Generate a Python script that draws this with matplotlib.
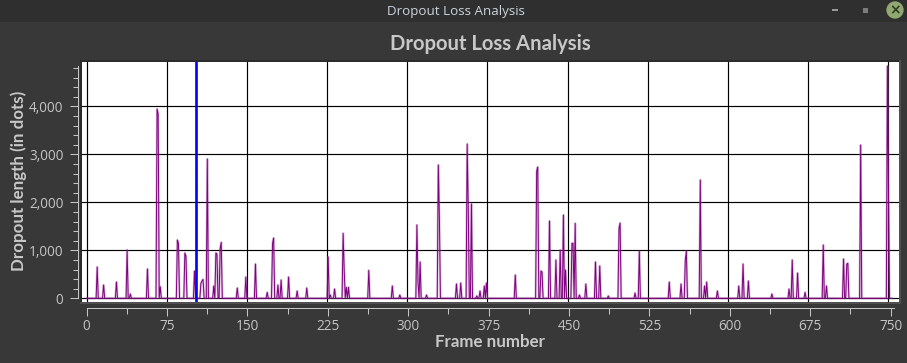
import numpy as np
import matplotlib
matplotlib.use("Agg")
import matplotlib.pyplot as plt
from matplotlib.patches import Rectangle

# Spikes, everything else sits at zero
peak_frames = [10, 16, 28, 38, 41, 57, 66, 67, 69, 85, 86, 92, 93, 101, 107, 108, 109, 113, 119, 121, 122,
               125, 126, 141, 149, 158, 169, 174, 175, 179, 182, 189, 197, 206, 226, 228, 232, 240, 241,
               243, 245, 264, 286, 293, 309, 310, 312, 318, 329, 330, 346, 350, 356, 357, 360, 365, 368,
               372, 374, 401, 421, 422, 425, 426, 433, 439, 443, 446, 448, 454, 455, 457, 461, 467, 476,
               480, 488, 498, 499, 513, 517, 545, 556, 560, 561, 574, 578, 580, 590, 610, 614, 619, 641,
               657, 660, 665, 672, 689, 692, 708, 711, 712, 724, 749, 750]
peak_values = [653, 278, 340, 1007, 90, 611, 3944, 3840, 240, 1215, 1145, 944, 880, 570, 312, 361, 395, 2903,
               257, 944, 924, 1040, 1167, 215, 444, 715, 125, 1145, 1257, 278, 382, 444, 153, 215, 861, 70,
               194, 1354, 590, 229, 229, 583, 257, 70, 1528, 347, 757, 70, 2778, 1700, 299, 320, 3215, 1900,
               1965, 50, 153, 257, 320, 486, 2650, 2736, 569, 549, 1611, 799, 1007, 1736, 590, 1146, 1146,
               1562, 70, 299, 757, 674, 50, 1458, 1569, 111, 979, 340, 299, 800, 979, 2465, 257, 340, 153,
               257, 715, 361, 90, 194, 799, 528, 125, 1111, 257, 819, 715, 729, 3194, 4840, 2187]
last_frame = 753
marker_frame = 102.4

x_grid = [0, 75, 150, 225, 300, 375, 450, 525, 600, 675, 750]
x_minor = [37.5, 112.5, 187.5, 262.5, 337.5, 412.5, 487.5, 562.5, 637.5, 712.5]
y_major = [0, 1000, 2000, 3000, 4000]
y_minor = [200, 400, 600, 800, 1200, 1400, 1600, 1800, 2200, 2400, 2600, 2800,
           3200, 3400, 3600, 3800, 4200, 4400, 4600, 4800]

frames = np.arange(last_frame + 1)
loss = np.zeros(last_frame + 1)
loss[peak_frames] = peak_values

W, H = 907, 363
BG = "#383838"
TXT = "#c4c4c4"
BOLD = "#c8c8c8"
FONT = "Open Sans"
BOLD_FONT = "Lato"


def box(left, top, right, bottom):
    # pixel box to figure fractions
    return [left / W, 1 - bottom / H, (right - left) / W, (bottom - top) / H]


def rect(left, top, right, bottom, color, z=-1):
    b = box(left, top, right, bottom)
    fig.add_artist(Rectangle((b[0], b[1]), b[2], b[3], transform=fig.transFigure, color=color, lw=0, zorder=z))


fig = plt.figure(figsize=(W / 100, H / 100), dpi=100, facecolor=BG)

# window title bar
rect(0, 0, W, 22, "#2f2f2f")
fig.text(455.5 / W, 1 - 11 / H, "Dropout Loss Analysis", color="#c9d3dc", fontsize=9.6, weight="medium",
         family=FONT, ha="center", va="center")
rect(832, 9, 838, 11, "#9a9a9a", 2)
rect(863, 8, 868, 13, "#7c7c7c", 2)
fig.text(895 / W, 1 - 10 / H, "\u00d7", color="#2f3a25", fontsize=10, weight="bold", ha="center", va="center",
         zorder=5, bbox=dict(boxstyle="circle,pad=0.12", fc="#8fa971", ec="none"))

fig.text(490 / W, 1 - 44.5 / H, "Dropout Loss Analysis", color=BOLD, fontsize=14.6, weight="bold",
         family=BOLD_FONT, ha="center", va="center")

# frame round the plot: dark on top and left, lighter on right and bottom
rect(80, 60, 901, 304, "#505050")
rect(80, 60, 899, 302, "#2c2c2c")

ax = fig.add_axes(box(81.5, 62, 899, 302))
ax.set_facecolor("white")
ax.set_xlim((81.5 - 86.5) / 1.0693, (899 - 86.5) / 1.0693)
ax.set_ylim(-77, 4923)
for s in ax.spines.values():
    s.set_visible(False)
ax.set_xticks(x_grid)
ax.set_yticks(y_major)
ax.tick_params(left=False, bottom=False, labelleft=False, labelbottom=False)
ax.grid(True, color="black", lw=0.85)
ax.set_axisbelow(True)
ax.plot(frames, loss, color="#a050a0", lw=1.6, alpha=0.4)
ax.plot(frames, loss, color="#800080", lw=0.7)
ax.axvline(marker_frame, color="#0000ff", lw=1.9)

# left scale
ay = fig.add_axes(box(77.5, 62, 78, 302))
ay.set_ylim(-77, 4923)
ay.patch.set_alpha(0)
for k in ["top", "right", "bottom"]:
    ay.spines[k].set_visible(False)
ay.spines["left"].set_color(TXT)
ay.spines["left"].set_linewidth(0.75)
ay.spines["left"].set_bounds(0, 4840)
ay.set_xticks([])
ay.set_yticks(y_major)
ay.set_yticks(y_minor, minor=True)
ay.set_yticklabels([f"{v:,}" for v in y_major], family=FONT, fontsize=9.8, color=TXT)
ay.tick_params(axis="y", which="major", length=6, width=0.75, color=TXT, pad=4)
ay.tick_params(axis="y", which="minor", length=3.5, width=0.75, color=TXT)
ay.set_ylabel("Dropout length (in dots)", family=BOLD_FONT, weight="bold", fontsize=12.2, color=BOLD)
ay.yaxis.set_label_coords((27 - 77.5) / 0.5, (302 - 181) / 240)

# bottom scale, sits a little wider than the grid
ab = fig.add_axes(box(86.5, 307, 893.5, 307.5))
ab.set_xlim(0, 750 * (893.5 - 86.5) / (890.7 - 86.5))
ab.patch.set_alpha(0)
for k in ["top", "right", "left"]:
    ab.spines[k].set_visible(False)
ab.spines["bottom"].set_color(TXT)
ab.spines["bottom"].set_linewidth(0.75)
ab.set_yticks([])
ab.set_xticks(x_grid)
ab.set_xticks(x_minor, minor=True)
ab.set_xticklabels([str(v) for v in x_grid], family=FONT, fontsize=9.8, color=TXT)
ab.tick_params(axis="x", which="major", length=6, width=0.75, color=TXT, pad=2)
ab.tick_params(axis="x", which="minor", length=4, width=0.75, color=TXT)

fig.text(490 / W, 1 - 342 / H, "Frame number", color=BOLD, fontsize=12.2, weight="bold", family=BOLD_FONT,
         ha="center", va="center")

fig.savefig("out.png", dpi=100, facecolor=BG)
